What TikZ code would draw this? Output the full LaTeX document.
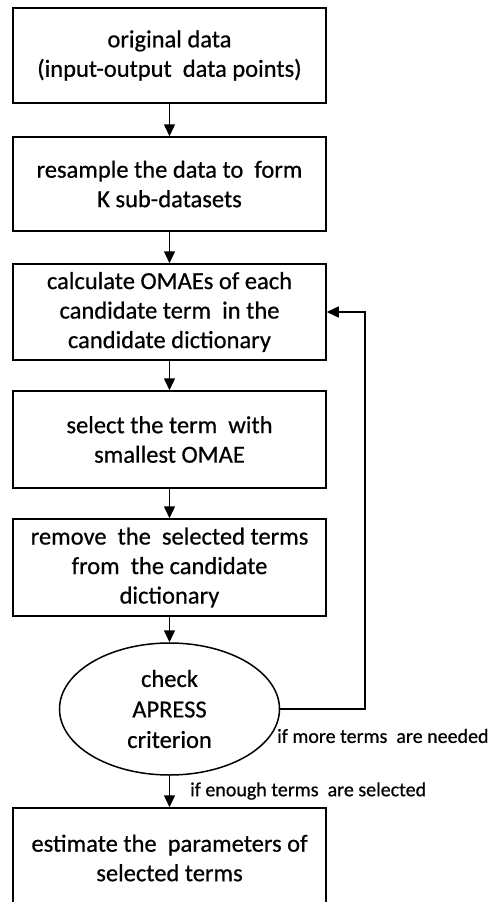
\documentclass[tikz,border=0pt]{standalone}
\usepackage{fontspec}
\setmainfont{Carlito}[FakeBold=0.6]
\usetikzlibrary{arrows.meta,shapes.geometric}
\tikzset{
  box/.style={draw, line width=1.5pt, rectangle, minimum width=313pt, inner sep=0pt, align=center,
    font=\fontsize{24.5}{29.5}\selectfont},
  ell/.style={draw, line width=1.5pt, ellipse, minimum width=220pt, minimum height=132pt, inner sep=0pt, align=center,
    font=\fontsize{24.5}{30.5}\selectfont},
  arr/.style={line width=1.5pt, -{Triangle[length=12pt,width=11pt]}},
  lbl/.style={font=\fontsize{20}{22}\selectfont, inner sep=0pt, anchor=west}
}
\begin{document}
\begin{tikzpicture}[x=1pt,y=-1pt]
\clip (0,0) rectangle (493,902);
\fill[white] (0,0) rectangle (493,902);
\node[box, minimum height=95pt] (b1) at (169.5,55.5) {original data\\(input-output\ \ data points)};
\node[box, minimum height=94pt] (b2) at (169.5,184) {resample the data to\ \ form\\K sub-datasets};
\node[box, minimum height=96pt] (b3) at (169.5,312) {calculate OMAEs of each\\candidate term\ \ in the\\candidate dictionary};
\node[box, minimum height=97pt] (b4) at (169.5,439.5) {select the term\ \ with\\smallest OMAE};
\node[box, minimum height=97pt] (b5) at (169.5,567.5) {remove\ \ the\ \ selected terms\\from\ \ the candidate\\dictionary};
\node[ell] (e) at (169.5,709) {check\\APRESS\\criterion};
\node[box, minimum height=100pt] (b6) at (169.5,858) {estimate the\ \ parameters of\\selected terms};
\draw[arr] (b1) -- (b2);
\draw[arr] (b2) -- (b3);
\draw[arr] (b3) -- (b4);
\draw[arr] (b4) -- (b5);
\draw[arr] (b5) -- (e);
\draw[arr] (e) -- (b6);
\coordinate (fb) at (365,709);
\draw[arr] (e.east) -- (fb) |- (b3.east);
\node[lbl] (l1) at (277,736) {if more terms\ \ are needed};
\node[lbl] (l2) at (190,791) {if enough terms\ \ are selected};
\end{tikzpicture}
\end{document}
